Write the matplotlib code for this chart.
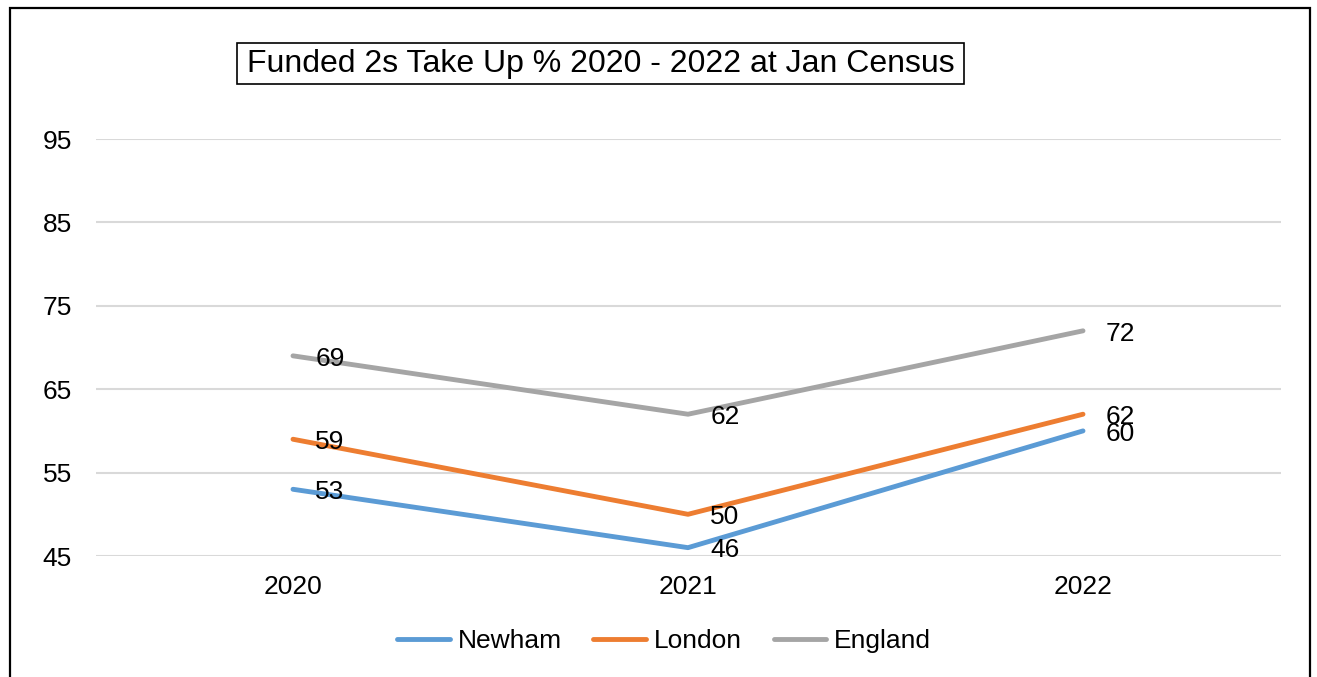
import matplotlib.pyplot as plt
from matplotlib.patches import Rectangle

# Funded 2-year-old take up (%) at January census
years = ["2020", "2021", "2022"]
newham = [53, 46, 60]
london = [59, 50, 62]
england = [69, 62, 72]
yticks = [45, 55, 65, 75, 85, 95]

series = [
    ("Newham", newham, "#5B9BD5"),
    ("London", london, "#ED7D31"),
    ("England", england, "#A5A5A5"),
]

plt.rcParams['font.family'] = ['Liberation Sans', 'DejaVu Sans']

W, H = 1317, 677
fig = plt.figure(figsize=(W / 100, H / 100), dpi=100)
ax = fig.add_axes([95.5 / W, 1 - 556 / H, (1280.5 - 95.5) / W, (556 - 139) / H])

x = list(range(len(years)))
for name, vals, col in series:
    ax.plot(x, vals, color=col, lw=3.5, solid_capstyle='round', label=name, zorder=3)
    for xi, v in zip(x, vals):
        ax.annotate(f"{v}", (xi, v), xytext=(16, -2), textcoords='offset points',
                    ha='left', va='center', fontsize=19, color='black', zorder=4)

ax.set_xlim(-0.5, len(years) - 0.5)
ax.set_ylim(45, 95)
ax.set_yticks(yticks)
ax.set_xticks(x)
ax.set_xticklabels(years)
ax.tick_params(axis='both', length=0, labelsize=19, colors='black')
ax.tick_params(axis='y', pad=17)
ax.tick_params(axis='x', pad=14)
ax.grid(axis='y', color='#D9D9D9', lw=1.5, zorder=0)
for s in ax.spines.values():
    s.set_visible(False)

leg = fig.legend(loc='center', bbox_to_anchor=(664 / W, 1 - 641 / H), ncol=3,
                 frameon=False, fontsize=19, handlelength=2.0, handletextpad=0.3,
                 columnspacing=1.2)

# boxed title
fig.patches.append(Rectangle((237 / W, 1 - 84 / H), 727 / W, 41 / H,
                             transform=fig.transFigure, facecolor='white',
                             edgecolor='black', lw=1.2))
fig.text(600.5 / W, 1 - 64 / H, "Funded 2s Take Up % 2020 - 2022 at Jan Census",
         ha='center', va='center', fontsize=23)

# outer chart border (runs off the bottom edge)
fig.patches.append(Rectangle((10 / W, -0.05), 1300 / W, 1.05 - 7.5 / H,
                             transform=fig.transFigure, fill=False,
                             edgecolor='black', lw=1.6, clip_on=False))

fig.savefig("out.png", dpi=100)
